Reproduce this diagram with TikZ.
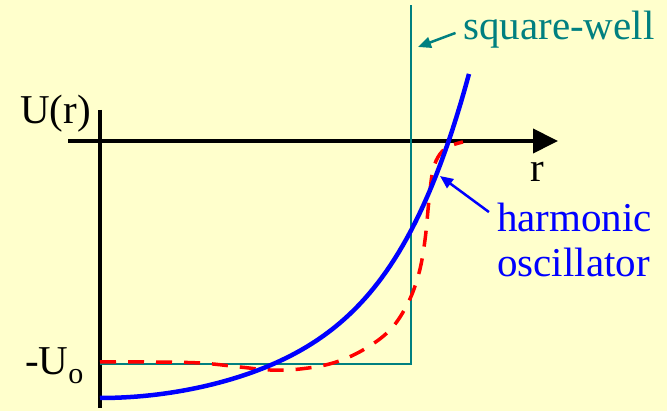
\documentclass[tikz,border=0pt]{standalone}
\usepackage{fontspec}
\setmainfont{Liberation Serif}
\definecolor{paper}{HTML}{FFFFCC}
\definecolor{wellteal}{HTML}{008080}
\definecolor{hoblue}{HTML}{0000FF}
\definecolor{fitred}{HTML}{FF0000}
\usetikzlibrary{arrows.meta,positioning}

\begin{document}
\begin{tikzpicture}[x=1pt,y=-1pt,
  lbl/.style={anchor=base west,inner sep=0pt,font=\fontsize{41}{45}\selectfont},
  axisline/.style={line width=4pt,black},
  pointer/.style={line width=2.5pt,-{Triangle[length=13pt,width=11pt]}}]
\fill[paper] (0,0) rectangle (667,411);
% axes
\coordinate (origin) at (100,141);
\coordinate (ytop) at (100,110);
\coordinate (ybot) at (100,408);
\coordinate (xleft) at (68,141);
\coordinate (xright) at (558,141);
\draw[axisline] (ytop) -- (ybot);
\draw[axisline,-{Triangle[length=25pt,width=24pt]}] (xleft) -- (xright);
\node[lbl] (ulabel) at (20,124) {U(r)};
\node[lbl] (rlabel) at (530,182) {r};
\node[lbl] (u0label) at (25,375) {-U\raisebox{-9pt}{\fontsize{30}{30}\selectfont o}};
% square well
\coordinate (wellleft) at (100,364);
\coordinate (wellcorner) at (411,364);
\coordinate (welltop) at (411,5);
\draw[wellteal,line width=2.5pt] (wellleft) -- (wellcorner) -- (welltop);
% realistic potential
\draw[fitred,line width=3.5pt,dash pattern=on 16pt off 12pt] plot[smooth,tension=0.6] coordinates {
  (100,362) (150,362) (200,363) (240,367) (270,370) (300,369) (333,363) (363,350)
  (390,330) (408,303) (419,273) (425,240) (429,200) (433,170) (440,154) (450,146) (463,142)};
% harmonic oscillator
\draw[hoblue,line width=4.5pt] plot[domain=0:3.69,samples=90]
  ({100+100*\x},{398-10.7*\x*\x-0.0707*\x^6});
% labels with pointers
\node[lbl,text=wellteal] (wellname) at (463,40) {square-well};
\coordinate (welltip) at (418,47);
\draw[pointer,wellteal,shorten <=8pt] (wellname.west) -- (welltip);
\node[lbl,text=hoblue] (honame) at (497,232) {harmonic};
\node[lbl,text=hoblue] (honame2) at (497,277) {oscillator};
\coordinate (hotip) at (440,176);
\draw[pointer,hoblue,shorten <=10pt] (honame.west) -- (hotip);
\end{tikzpicture}
\end{document}
